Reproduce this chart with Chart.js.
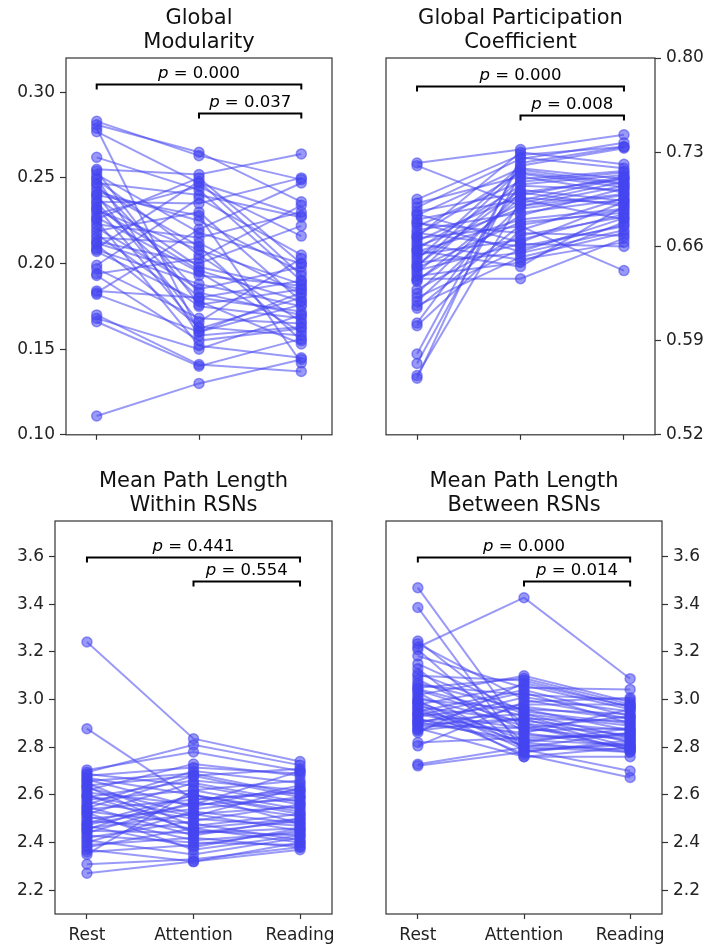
<!DOCTYPE html>
<html lang="en">
<head>
<meta charset="UTF-8">
<title>Network metrics by condition</title>
<script src="https://cdn.jsdelivr.net/npm/chart.js"></script>
<style>
  body { margin: 0; background: #fff; }
  .panel { position: absolute; }
</style>
</head>
<body>
<div class="panel" style="left:0;top:0"><canvas id="modChart" width="353" height="450"></canvas></div>
<div class="panel" style="left:353px;top:0"><canvas id="gpcChart" width="353" height="450"></canvas></div>
<div class="panel" style="left:0;top:450px"><canvas id="withinChart" width="353" height="499"></canvas></div>
<div class="panel" style="left:353px;top:450px"><canvas id="betweenChart" width="353" height="499"></canvas></div>
<script>
const conditions = ['Rest', 'Attention', 'Reading'];

// Global modularity, one value per subject
const modularityRest = [0.283, 0.281, 0.279, 0.277, 0.262, 0.255, 0.254, 0.252, 0.250, 0.249, 0.247, 0.246,
  0.244, 0.242, 0.240, 0.238, 0.236, 0.235, 0.233, 0.231, 0.229, 0.227, 0.225, 0.223,
  0.221, 0.219, 0.217, 0.215, 0.213, 0.211, 0.209, 0.208, 0.207, 0.199, 0.197, 0.194,
  0.193, 0.184, 0.183, 0.182, 0.170, 0.168, 0.166, 0.111, 0.232, 0.240, 0.226, 0.212];
const modularityAttention = [0.263, 0.265, 0.160, 0.247, 0.243, 0.252, 0.176, 0.218, 0.158, 0.205, 0.240, 0.183,
  0.210, 0.225, 0.166, 0.198, 0.235, 0.180, 0.162, 0.208, 0.245, 0.195, 0.152, 0.215,
  0.185, 0.230, 0.175, 0.212, 0.200, 0.163, 0.248, 0.188, 0.178, 0.238, 0.168, 0.203,
  0.155, 0.180, 0.220, 0.160, 0.141, 0.150, 0.140, 0.130, 0.196, 0.228, 0.250, 0.193];
const modularityReading = [0.249, 0.236, 0.176, 0.228, 0.190, 0.264, 0.185, 0.200, 0.163, 0.166, 0.227, 0.170,
  0.155, 0.195, 0.203, 0.185, 0.250, 0.172, 0.180, 0.188, 0.216, 0.160, 0.145, 0.230,
  0.198, 0.178, 0.168, 0.182, 0.222, 0.158, 0.193, 0.175, 0.153, 0.205, 0.165, 0.234,
  0.162, 0.190, 0.247, 0.183, 0.137, 0.170, 0.156, 0.144, 0.178, 0.142, 0.200, 0.187];
const modularityTicks = [0.10, 0.15, 0.20, 0.25, 0.30];

// Global participation coefficient
const participationRest = [0.722, 0.720, 0.695, 0.692, 0.689, 0.686, 0.683, 0.680, 0.677, 0.675, 0.672, 0.670,
  0.668, 0.666, 0.664, 0.662, 0.660, 0.658, 0.656, 0.654, 0.652, 0.650, 0.648, 0.646,
  0.644, 0.642, 0.640, 0.638, 0.636, 0.635, 0.634, 0.628, 0.625, 0.622, 0.619, 0.616,
  0.614, 0.603, 0.601, 0.580, 0.573, 0.564, 0.562, 0.667, 0.657, 0.684, 0.645, 0.678];
const participationAttention = [0.732, 0.690, 0.728, 0.712, 0.725, 0.700, 0.718, 0.695, 0.670, 0.708, 0.685, 0.660,
  0.715, 0.675, 0.698, 0.650, 0.688, 0.705, 0.680, 0.665, 0.692, 0.720, 0.655, 0.702,
  0.678, 0.662, 0.710, 0.648, 0.636, 0.683, 0.696, 0.668, 0.700, 0.658, 0.690, 0.652,
  0.676, 0.706, 0.672, 0.722, 0.714, 0.694, 0.726, 0.730, 0.645, 0.663, 0.717, 0.656];
const participationReading = [0.743, 0.705, 0.734, 0.700, 0.737, 0.690, 0.710, 0.680, 0.668, 0.715, 0.695, 0.675,
  0.706, 0.642, 0.712, 0.663, 0.698, 0.702, 0.688, 0.684, 0.708, 0.733, 0.672, 0.694,
  0.685, 0.660, 0.716, 0.678, 0.666, 0.703, 0.692, 0.682, 0.710, 0.676, 0.699, 0.670,
  0.687, 0.713, 0.696, 0.734, 0.704, 0.711, 0.718, 0.721, 0.690, 0.693, 0.707, 0.681];
const participationTicks = [0.52, 0.59, 0.66, 0.73, 0.80];

// Mean path length within RSNs
const withinRest = [3.242, 2.878, 2.705, 2.695, 2.688, 2.680, 2.672, 2.665, 2.658, 2.650, 2.640, 2.630,
  2.620, 2.610, 2.600, 2.590, 2.580, 2.570, 2.560, 2.550, 2.540, 2.530, 2.520, 2.510,
  2.500, 2.490, 2.480, 2.470, 2.460, 2.450, 2.440, 2.430, 2.420, 2.410, 2.400, 2.390,
  2.380, 2.370, 2.360, 2.350, 2.309, 2.271, 2.545, 2.635, 2.475, 2.525, 2.595, 2.455];
const withinAttention = [2.836, 2.580, 2.780, 2.810, 2.640, 2.715, 2.600, 2.550, 2.690, 2.470, 2.680, 2.520,
  2.730, 2.560, 2.450, 2.660, 2.620, 2.500, 2.700, 2.430, 2.580, 2.480, 2.650, 2.410,
  2.540, 2.460, 2.600, 2.380, 2.520, 2.440, 2.570, 2.400, 2.490, 2.350, 2.530, 2.420,
  2.460, 2.320, 2.390, 2.620, 2.330, 2.320, 2.680, 2.440, 2.560, 2.370, 2.510, 2.600];
const withinReading = [2.740, 2.620, 2.700, 2.725, 2.560, 2.690, 2.480, 2.640, 2.600, 2.520, 2.710, 2.450,
  2.680, 2.580, 2.430, 2.620, 2.540, 2.470, 2.650, 2.500, 2.610, 2.410, 2.570, 2.440,
  2.590, 2.400, 2.530, 2.460, 2.550, 2.490, 2.510, 2.390, 2.560, 2.420, 2.480, 2.380,
  2.500, 2.400, 2.450, 2.660, 2.380, 2.370, 2.590, 2.460, 2.700, 2.430, 2.630, 2.520];

// Mean path length between RSNs
const betweenRest = [3.470, 3.387, 3.220, 3.246, 3.235, 3.210, 3.183, 3.150, 3.130, 3.100, 3.085, 3.060,
  3.045, 3.030, 3.020, 3.010, 3.000, 2.990, 2.980, 2.970, 2.960, 2.950, 2.940, 2.930,
  2.920, 2.910, 2.900, 2.890, 2.880, 2.870, 2.862, 2.820, 2.806, 2.729, 2.722, 3.070,
  2.995, 2.935, 2.915, 3.040, 2.965, 2.875, 3.110, 2.945, 3.050, 2.985, 2.905, 2.895];
const betweenAttention = [2.860, 2.780, 3.428, 2.900, 3.000, 2.820, 3.050, 2.950, 2.790, 3.080, 2.870, 3.020,
  2.930, 2.800, 3.100, 2.890, 2.960, 2.830, 3.060, 2.910, 2.770, 3.040, 2.850, 2.980,
  2.810, 2.940, 3.010, 2.880, 2.760, 2.920, 3.070, 2.840, 2.990, 2.800, 2.780, 2.960,
  2.790, 3.030, 2.860, 2.900, 2.820, 2.970, 2.940, 2.880, 3.090, 2.760, 2.830, 2.920];
const betweenReading = [2.800, 2.830, 3.088, 2.850, 2.920, 2.780, 3.043, 2.900, 2.700, 2.970, 2.880, 3.000,
  2.820, 2.860, 2.990, 2.790, 2.940, 2.810, 2.960, 2.870, 2.673, 2.930, 2.840, 2.980,
  2.790, 2.890, 2.950, 2.830, 2.800, 2.910, 2.970, 2.850, 3.008, 2.780, 2.820, 2.870,
  2.810, 2.900, 2.960, 2.790, 2.880, 2.920, 2.840, 2.930, 2.980, 2.760, 2.860, 2.800];
const pathTicks = [2.2, 2.4, 2.6, 2.8, 3.0, 3.2, 3.4, 3.6];

// significance brackets: from/to condition index, level in data units
const modularityBrackets = [{ from: 0, to: 2, level: 0.305, p: '0.000' }, { from: 1, to: 2, level: 0.288, p: '0.037' }];
const participationBrackets = [{ from: 0, to: 2, level: 0.779, p: '0.000' }, { from: 1, to: 2, level: 0.758, p: '0.008' }];
const withinBrackets = [{ from: 0, to: 2, level: 3.6, p: '0.441' }, { from: 1, to: 2, level: 3.5, p: '0.554' }];
const betweenBrackets = [{ from: 0, to: 2, level: 3.6, p: '0.000' }, { from: 1, to: 2, level: 3.5, p: '0.014' }];

const FONT = '"DejaVu Sans", "Liberation Sans", sans-serif';
const lineColor = 'rgba(70, 70, 240, 0.55)';

// box, titles and p-value brackets
const panelDecor = {
  id: 'panelDecor',
  afterDraw(chart, args, opts) {
    const { ctx, chartArea: a, scales } = chart;
    ctx.save();
    ctx.strokeStyle = '#333';
    ctx.lineWidth = 1.2;
    ctx.strokeRect(a.left, a.top, a.right - a.left, a.bottom - a.top);

    ctx.fillStyle = '#111';
    ctx.font = '21px ' + FONT;
    ctx.textAlign = 'center';
    ctx.textBaseline = 'alphabetic';
    const cx = (a.left + a.right) / 2;
    const n = opts.title.length;
    opts.title.forEach((line, i) => ctx.fillText(line, cx, a.top - 10 - (n - 1 - i) * 24));

    opts.brackets.forEach(b => {
      const x1 = scales.x.getPixelForValue(b.from);
      const x2 = scales.x.getPixelForValue(b.to);
      const y = Math.round(scales.y.getPixelForValue(b.level)) + 0.5;
      ctx.strokeStyle = '#000';
      ctx.lineWidth = 2;
      ctx.beginPath();
      ctx.moveTo(x1, y + 5);
      ctx.lineTo(x1, y);
      ctx.lineTo(x2, y);
      ctx.lineTo(x2, y + 5);
      ctx.stroke();

      ctx.textAlign = 'left';
      ctx.font = 'italic 16.5px ' + FONT;
      const wp = ctx.measureText('p').width;
      ctx.font = '16.5px ' + FONT;
      const rest = ' = ' + b.p;
      const wr = ctx.measureText(rest).width;
      const start = (x1 + x2) / 2 - (wp + wr) / 2;
      ctx.fillStyle = '#000';
      ctx.font = 'italic 16.5px ' + FONT;
      ctx.fillText('p', start, y - 7);
      ctx.font = '16.5px ' + FONT;
      ctx.fillText(rest, start + wp, y - 7);
    });
    ctx.restore();
  }
};

function makeChart(id, cfg) {
  const datasets = cfg.rest.map((v, i) => ({
    data: [cfg.rest[i], cfg.attention[i], cfg.reading[i]].map((y, x) => ({ x, y })),
    borderColor: lineColor,
    borderWidth: 2,
    pointRadius: 5,
    pointBackgroundColor: lineColor,
    pointBorderColor: lineColor,
    pointBorderWidth: 1.5,
    tension: 0
  }));

  new Chart(document.getElementById(id), {
    type: 'line',
    data: { datasets },
    plugins: [panelDecor],
    options: {
      responsive: false,
      animation: false,
      events: [],
      layout: { padding: cfg.padding },
      plugins: {
        legend: { display: false },
        tooltip: { enabled: false },
        panelDecor: { title: cfg.title, brackets: cfg.brackets }
      },
      scales: {
        x: {
          type: 'linear',
          min: -0.3,
          max: 2.3,
          afterBuildTicks: s => { s.ticks = conditions.map((c, i) => ({ value: i })); },
          afterFit: s => { s.height = cfg.xHeight; },
          grid: { drawOnChartArea: false, tickLength: 5, color: '#333', tickWidth: 1.2 },
          border: { display: false },
          ticks: {
            display: cfg.showX,
            padding: 6,
            color: '#222',
            font: { family: FONT, size: 17 },
            maxRotation: 0,
            callback: v => conditions[v]
          }
        },
        y: {
          type: 'linear',
          position: cfg.side,
          min: cfg.min,
          max: cfg.max,
          afterBuildTicks: s => { s.ticks = cfg.ticks.map(v => ({ value: v })); },
          afterFit: s => { s.width = cfg.yWidth; },
          grid: { drawOnChartArea: false, tickLength: 6, color: '#333', tickWidth: 1.2 },
          border: { display: false },
          ticks: {
            padding: 5,
            color: '#222',
            font: { family: FONT, size: 17 },
            callback: v => v.toFixed(cfg.decimals)
          }
        }
      }
    }
  });
}

makeChart('modChart', {
  rest: modularityRest, attention: modularityAttention, reading: modularityReading,
  title: ['Global', 'Modularity'], brackets: modularityBrackets,
  min: 0.10, max: 0.32, ticks: modularityTicks, decimals: 2, side: 'left',
  padding: { left: 0, right: 21, top: 58, bottom: 0 }, yWidth: 66, xHeight: 11, showX: false
});
makeChart('gpcChart', {
  rest: participationRest, attention: participationAttention, reading: participationReading,
  title: ['Global Participation', 'Coefficient'], brackets: participationBrackets,
  min: 0.52, max: 0.80, ticks: participationTicks, decimals: 2, side: 'right',
  padding: { left: 33, right: 0, top: 58, bottom: 0 }, yWidth: 51, xHeight: 11, showX: false
});
makeChart('withinChart', {
  rest: withinRest, attention: withinAttention, reading: withinReading,
  title: ['Mean Path Length', 'Within RSNs'], brackets: withinBrackets,
  min: 2.1, max: 3.75, ticks: pathTicks, decimals: 1, side: 'left',
  padding: { left: 0, right: 21, top: 71, bottom: 0 }, yWidth: 55, xHeight: 35, showX: true
});
makeChart('betweenChart', {
  rest: betweenRest, attention: betweenAttention, reading: betweenReading,
  title: ['Mean Path Length', 'Between RSNs'], brackets: betweenBrackets,
  min: 2.1, max: 3.75, ticks: pathTicks, decimals: 1, side: 'right',
  padding: { left: 33, right: 0, top: 71, bottom: 0 }, yWidth: 44, xHeight: 35, showX: true
});
</script>
</body>
</html>
